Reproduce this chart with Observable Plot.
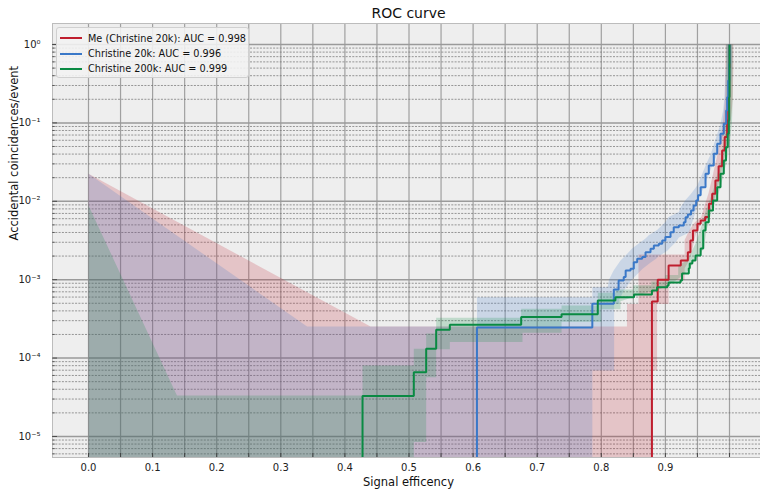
<!DOCTYPE html>
<html>
<head>
<meta charset="utf-8">
<script src="https://cdn.jsdelivr.net/npm/d3@7"></script>
<script src="https://cdn.jsdelivr.net/npm/@observablehq/plot@0.6"></script>
<style>
  body { margin: 0; background: #ffffff; font-family: "DejaVu Sans", sans-serif; }
  #wrap { position: relative; width: 760px; height: 489px; overflow: hidden; }
  #legend { position: absolute; left: 56px; top: 27px; width: 193px; height: 51px;
            background: rgba(242,242,242,0.88); border: 1px solid #d0d0d0; border-radius: 3px;
            box-sizing: border-box; font-size: 9.7px; color: #111; }
  .row { position: absolute; left: 0; height: 14px; display: flex; align-items: center; white-space: nowrap; }
  .sw { display: inline-block; width: 22px; height: 2px; margin-left: 3px; margin-right: 6px; }
</style>
</head>
<body>
<div id="wrap"><div id="chart"></div><div id="legend"></div></div>
<script>
// ---------------- data ----------------
const seriesNames = ["Me (Christine 20k)", "Christine 20k", "Christine 200k"];
const aucValues = [0.998, 0.996, 0.999];

const xTickValues = [0.0, 0.1, 0.2, 0.3, 0.4, 0.5, 0.6, 0.7, 0.8, 0.9];
const xGridValues = [0, 0.05, 0.1, 0.15, 0.2, 0.25, 0.3, 0.35, 0.4, 0.45, 0.5, 0.55, 0.6, 0.65, 0.7, 0.75, 0.8, 0.85, 0.9, 0.95, 1.0];
const yTickValues = [1, 1e-1, 1e-2, 1e-3, 1e-4, 1e-5];

const BOT = 1e-7; // below the visible range (zero on a log axis)

// ROC curves: [signal efficiency, accidental coincidences/event], drawn as steps
const curveMe = [
  [0.879, BOT], [0.879, 5.27e-4], [0.888, 1.0e-3], [0.905, 1.52e-3], [0.924, 1.76e-3], [0.935, 2.24e-3],
  [0.939, 3.16e-3], [0.943, 4.25e-3], [0.950, 5.16e-3], [0.955, 5.7e-3], [0.962, 6.3e-3], [0.968, 9.3e-3],
  [0.973, 1.25e-2], [0.978, 1.84e-2], [0.983, 2.8e-2], [0.9885, 4.45e-2], [0.9925, 6.6e-2], [0.9963, 0.107],
  [0.998, 0.158], [0.999, 0.213], [0.9995, 0.5], [1.0, 1.0]
];
const curveC20 = [
  [0.606, BOT], [0.606, 2.46e-4], [0.786, 4.92e-4], [0.8195, 7.5e-4], [0.827, 9.77e-4], [0.835, 1.08e-3],
  [0.838, 1.31e-3], [0.8456, 1.38e-3], [0.8507, 1.67e-3], [0.856, 1.85e-3], [0.8638, 1.94e-3], [0.869, 2.24e-3],
  [0.8768, 2.48e-3], [0.882, 2.73e-3], [0.8897, 2.87e-3], [0.895, 3.16e-3], [0.900, 3.49e-3], [0.908, 4.04e-3],
  [0.913, 4.67e-3], [0.921, 4.91e-3], [0.9287, 5.41e-3], [0.9314, 6.27e-3], [0.935, 6.79e-3], [0.940, 7.63e-3],
  [0.944, 8.84e-3], [0.948, 1.02e-2], [0.951, 1.19e-2], [0.955, 1.51e-2], [0.9626, 2.24e-2], [0.9677, 2.86e-2],
  [0.9755, 4.03e-2], [0.9808, 5.41e-2], [0.986, 7.26e-2], [0.9911, 0.0974], [0.9948, 0.144], [0.9964, 0.213],
  [0.998, 0.347], [0.9995, 0.567], [1.0, 1.0]
];
const curveC200 = [
  [0.4275, BOT], [0.4275, 3.27e-5], [0.5075, 6.6e-5], [0.5268, 1.31e-4], [0.5424, 2.3e-4], [0.5637, 2.66e-4],
  [0.675, 3.33e-4], [0.738, 3.63e-4], [0.7945, 5.43e-4], [0.822, 5.98e-4], [0.851, 6.47e-4], [0.879, 7.28e-4],
  [0.887, 8.0e-4], [0.903, 8.43e-4], [0.905, 9.2e-4], [0.9236, 9.77e-4], [0.926, 1.2e-3], [0.9365, 1.4e-3],
  [0.938, 1.61e-3], [0.942, 1.76e-3], [0.947, 2.04e-3], [0.955, 2.5e-3], [0.959, 4.24e-3], [0.9626, 5.41e-3],
  [0.9677, 7.63e-3], [0.9743, 1.02e-2], [0.9808, 1.51e-2], [0.986, 2.24e-2], [0.9911, 3.31e-2], [0.9945, 4.9e-2],
  [0.9973, 7.26e-2], [0.9989, 0.107], [0.9995, 0.213], [1.0, 1.0]
];

// Uncertainty bands: outline (upper edge left->right, then lower edge right->left)
const bandMe = [
  [0, 0.0224], [0.44, 2.53e-4], [0.84, 2.53e-4], [0.84, 4.9e-4], [0.858, 4.9e-4], [0.858, 2.1e-3], [0.93, 2.1e-3],
  [0.93, 3.2e-3], [0.937, 4.25e-3], [0.944, 5.16e-3], [0.949, 5.7e-3], [0.956, 6.3e-3], [0.962, 9.3e-3],
  [0.967, 1.25e-2], [0.972, 1.84e-2], [0.977, 2.8e-2], [0.9825, 4.45e-2], [0.9865, 6.6e-2], [0.990, 0.107],
  [0.992, 0.158], [0.993, 0.213], [0.9935, 0.5], [0.994, 1.0],
  [1.006, 1.0], [1.006, 0.5], [1.005, 0.213], [1.004, 0.158], [1.002, 0.107], [0.998, 0.066], [0.994, 0.0445],
  [0.989, 0.028], [0.984, 0.0184], [0.979, 0.0125], [0.974, 9.3e-3], [0.968, 6.3e-3], [0.961, 5.7e-3],
  [0.956, 5.16e-3], [0.949, 4.25e-3], [0.945, 3.16e-3], [0.941, 2.24e-3], [0.937, 1.76e-3], [0.93, 1.4e-3],
  [0.93, 1.0e-3], [0.905, 1.0e-3], [0.905, 4.9e-4], [0.887, 4.9e-4], [0.887, 6.95e-5], [0.879, 6.95e-5], [0.879, BOT],
  [0, BOT]
];
const bandC20 = [
  [0, 0.0224], [0.341, 2.53e-4], [0.606, 2.53e-4], [0.606, 5.98e-4], [0.786, 5.98e-4], [0.786, 8.0e-4], [0.81, 8.0e-4],
  [0.812, 1.0e-3], [0.819, 1.3e-3], [0.830, 1.75e-3], [0.843, 2.25e-3], [0.848, 2.5e-3], [0.861, 3.0e-3],
  [0.869, 3.35e-3], [0.874, 3.7e-3], [0.887, 4.3e-3], [0.892, 4.7e-3], [0.900, 5.45e-3], [0.905, 6.3e-3],
  [0.921, 7.3e-3], [0.924, 8.5e-3], [0.932, 1.05e-2], [0.940, 1.25e-2], [0.950, 1.6e-2], [0.958, 2.3e-2],
  [0.963, 2.9e-2], [0.971, 4.03e-2], [0.976, 5.41e-2], [0.981, 7.26e-2], [0.986, 0.0974], [0.990, 0.144],
  [0.992, 0.213], [0.993, 0.347], [0.995, 0.567], [0.995, 1.0],
  [1.004, 1.0], [1.004, 0.567], [1.003, 0.347], [1.001, 0.213], [0.9995, 0.144], [0.996, 0.0974], [0.991, 0.0726],
  [0.986, 0.054], [0.981, 0.040], [0.973, 0.0286], [0.968, 0.0224], [0.960, 0.0151], [0.953, 0.0113],
  [0.948, 8.0e-3], [0.945, 6.5e-3], [0.939, 4.6e-3], [0.937, 4.0e-3], [0.921, 3.46e-3], [0.916, 3.0e-3],
  [0.908, 2.6e-3], [0.903, 2.34e-3], [0.890, 2.0e-3], [0.885, 1.84e-3], [0.877, 1.66e-3], [0.864, 1.37e-3],
  [0.859, 1.24e-3], [0.846, 9.7e-4], [0.835, 7.2e-4], [0.828, 5.6e-4], [0.828, 4.9e-4], [0.82, 4.9e-4],
  [0.82, 6.95e-5], [0.786, 6.95e-5], [0.786, BOT], [0, BOT]
];
const bandC200 = [
  [0, 0.00884], [0.138, 3.33e-5], [0.4275, 3.33e-5], [0.4275, 8.05e-5], [0.5075, 8.05e-5], [0.5075, 1.31e-4],
  [0.5268, 1.31e-4], [0.5268, 2.06e-4], [0.5424, 2.06e-4], [0.5424, 3.27e-4], [0.675, 3.27e-4], [0.675, 4.25e-4],
  [0.738, 4.25e-4], [0.738, 4.7e-4], [0.7945, 4.7e-4], [0.7945, 6.8e-4], [0.822, 6.8e-4], [0.822, 7.5e-4],
  [0.85, 7.5e-4], [0.85, 8.5e-4], [0.878, 8.5e-4], [0.878, 9.5e-4], [0.90, 9.5e-4], [0.90, 1.15e-3], [0.92, 1.15e-3],
  [0.92, 1.5e-3], [0.935, 1.8e-3], [0.94, 2.2e-3], [0.948, 3.0e-3], [0.954, 4.24e-3], [0.958, 5.41e-3],
  [0.963, 7.63e-3], [0.969, 1.02e-2], [0.976, 1.51e-2], [0.981, 2.24e-2], [0.986, 3.31e-2], [0.9895, 4.9e-2],
  [0.992, 7.26e-2], [0.994, 0.107], [0.995, 0.213], [0.995, 1.0],
  [1.005, 1.0], [1.005, 0.213], [1.004, 0.107], [1.002, 0.0726], [0.9995, 0.049], [0.996, 0.0331], [0.991, 0.0224],
  [0.986, 0.0151], [0.979, 0.0102], [0.9727, 7.63e-3], [0.9676, 5.41e-3], [0.964, 4.24e-3], [0.96, 2.5e-3],
  [0.952, 2.0e-3], [0.945, 1.7e-3], [0.935, 1.3e-3], [0.925, 1.1e-3], [0.91, 9.0e-4], [0.89, 7.5e-4], [0.87, 6.8e-4],
  [0.85, 6.0e-4], [0.83, 5.3e-4], [0.83, 4.2e-4], [0.80, 4.2e-4], [0.80, 2.9e-4], [0.738, 2.9e-4], [0.738, 2.1e-4],
  [0.677, 2.1e-4], [0.677, 1.6e-4], [0.5637, 1.6e-4], [0.5637, 1.3e-4], [0.5424, 1.3e-4], [0.5424, 5.7e-5],
  [0.5268, 5.7e-5], [0.5268, 8.5e-6], [0.5075, 8.5e-6], [0.5075, BOT], [0, BOT]
];

// ---------------- style / layout ----------------
const colors = ["#bf1e2e", "#3a78c8", "#0a8a43"];
const curves = [curveMe, curveC20, curveC200];
const bands = [bandMe, bandC20, bandC200];
const W = 760, H = 489, mL = 52, mR = 0, mT = 23, mB = 32;
const frameW = W - mL - mR, frameH = H - mT - mB;
const xDomain = [-0.05616, 1.04836];
const yDomain = [5.39e-6, 1.853];

// minor log grid positions (2..9 x each decade)
const yMinor = [];
for (let e = -6; e <= 0; e++) for (let m = 2; m <= 9; m++) {
  const v = m * Math.pow(10, e);
  if (v > yDomain[0] && v < yDomain[1]) yMinor.push(v);
}
const sup = {"-": "\u207B", "0": "\u2070", "1": "\u00B9", "2": "\u00B2", "3": "\u00B3", "4": "\u2074", "5": "\u2075"};
const powLabel = v => "10" + String(Math.round(Math.log10(v))).split("").map(c => sup[c]).join("");
const X = d => d[0], Y = d => d[1];

const chart = Plot.plot({
  width: W, height: H,
  marginLeft: mL, marginRight: mR, marginTop: mT, marginBottom: mB,
  x: {domain: xDomain, axis: null},
  y: {type: "log", domain: yDomain, axis: null},
  style: {fontFamily: "'DejaVu Sans', sans-serif", background: "#ffffff", overflow: "visible"},
  marks: [
    Plot.frame({fill: "#eeeeee", stroke: "none"}),
    Plot.ruleX(xGridValues, {stroke: "#a0a0a0", strokeWidth: 1.2}),
    Plot.ruleY(yMinor, {stroke: "#6e6e6e", strokeWidth: 0.7, strokeDasharray: "2,1.3"}),
    Plot.ruleY(yTickValues, {stroke: "#9a9a9a", strokeWidth: 1.5}),
    ...bands.map((b, i) => Plot.line(b, {x: X, y: Y, fill: colors[i], fillOpacity: 0.2, stroke: "none", curve: "linear", clip: true})),
    ...curves.map((c, i) => Plot.line(c, {x: X, y: Y, stroke: colors[i], strokeWidth: 2, curve: "step-after", clip: true, strokeLinejoin: "miter", strokeLinecap: "butt"})),
    // spines (left, bottom, top)
    Plot.ruleX([xDomain[0]], {stroke: "#bcbcbc", strokeWidth: 1}),
    Plot.ruleY([yDomain[0]], {stroke: "#bcbcbc", strokeWidth: 1}),
    Plot.ruleY([yDomain[1]], {stroke: "#bcbcbc", strokeWidth: 1}),
    // inward ticks
    Plot.ruleX(xGridValues, {stroke: "#333", strokeWidth: 0.8, insetTop: frameH - 4}),
    Plot.ruleY(yTickValues, {stroke: "#333", strokeWidth: 0.8, insetRight: frameW - 5}),
    Plot.ruleY(yMinor, {stroke: "#333", strokeWidth: 0.6, insetRight: frameW - 3}),
    // tick labels
    Plot.text(xTickValues, {x: d => d, text: d => d3.format(".1f")(d), frameAnchor: "bottom", lineAnchor: "middle", dy: 10, fontSize: 10, fill: "#222"}),
    Plot.text(yTickValues, {y: d => d, text: powLabel, frameAnchor: "left", dx: -12, textAnchor: "end", fontSize: 10, fill: "#222"}),
    // titles
    Plot.text(["ROC curve"], {frameAnchor: "top", lineAnchor: "middle", dy: -10, dx: 2, fontSize: 14, fill: "#111"}),
    Plot.text(["Signal efficency"], {frameAnchor: "bottom", lineAnchor: "middle", dy: 25, dx: 2, fontSize: 11.5, fill: "#111"}),
    Plot.text(["Accidental coincidences/event"], {frameAnchor: "left", rotate: -90, dx: -38, fontSize: 11.5, fill: "#111"})
  ]
});
document.getElementById("chart").appendChild(chart);

// legend
const legend = document.getElementById("legend");
const rowTops = [3, 18.5, 33.5];
seriesNames.forEach((name, i) => {
  const row = document.createElement("div");
  row.className = "row";
  row.style.top = rowTops[i] + "px";
  const sw = document.createElement("span");
  sw.className = "sw";
  sw.style.background = colors[i];
  row.appendChild(sw);
  row.appendChild(document.createTextNode(name + ": AUC = " + aucValues[i].toFixed(3)));
  legend.appendChild(row);
});
</script>
</body>
</html>
